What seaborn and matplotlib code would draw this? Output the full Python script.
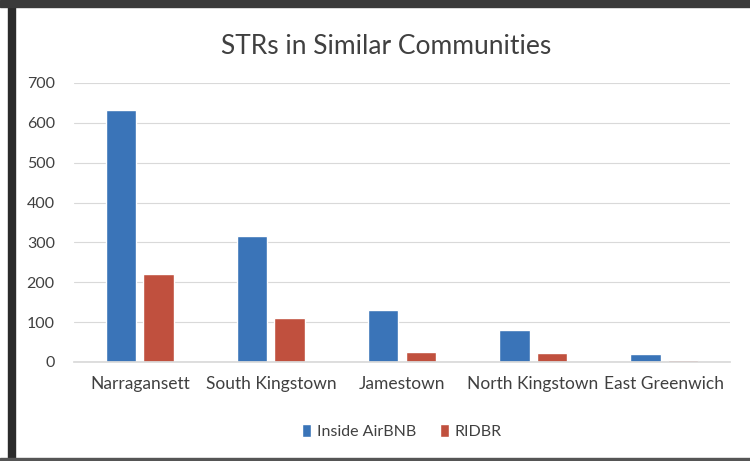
import matplotlib
matplotlib.use("Agg")
import matplotlib.pyplot as plt
import seaborn as sns
import pandas as pd
from matplotlib.patches import Rectangle

towns = ["Narragansett", "South Kingstown", "Jamestown", "North Kingstown", "East Greenwich"]
inside_airbnb = [632, 315, 131, 81, 21]
ridbr = [220, 110, 26, 22, 4]
series_names = ["Inside AirBNB", "RIDBR"]
yticks = [0, 100, 200, 300, 400, 500, 600, 700]

df = pd.DataFrame({
    "Town": towns * 2,
    "Series": [series_names[0]] * len(towns) + [series_names[1]] * len(towns),
    "Value": inside_airbnb + ridbr,
})

sns.set_theme(style="white")
plt.rcParams["font.family"] = ["Lato", "DejaVu Sans"]

fig = plt.figure(figsize=(7.5, 4.61), dpi=100)
ax = fig.add_axes([0.099, 0.215, 0.874, 0.605])

palette = {"Inside AirBNB": "#3a74b8", "RIDBR": "#c0503e"}
sns.barplot(data=df, x="Town", y="Value", hue="Series", palette=palette,
            width=0.57, gap=0.19, ax=ax, saturation=1, legend=True)

ax.set_ylim(0, 700)
ax.set_yticks(yticks)
ax.set_xlim(-0.5, len(towns) - 0.5)
ax.yaxis.grid(True, color="#d9d9d9", linewidth=0.8)
ax.set_axisbelow(True)
for s in ["top", "right", "left"]:
    ax.spines[s].set_visible(False)
ax.spines["bottom"].set_color("#d9d9d9")
ax.set_xlabel("")
ax.set_ylabel("")
ax.tick_params(axis="x", length=0, labelsize=12.5, colors="#404040", pad=10)
ax.tick_params(axis="y", length=0, labelsize=11.5, colors="#404040", pad=14)

leg = ax.legend(loc="upper center", bbox_to_anchor=(0.5, -0.17), ncol=2, frameon=False,
                fontsize=11.5, handlelength=0.55, handleheight=0.9, handletextpad=0.35,
                columnspacing=1.5)
for t in leg.get_texts():
    t.set_color("#404040")

fig.text(0.515, 0.9, "STRs in Similar Communities", ha="center", va="center",
         fontsize=19, color="#404040")

# scan frame
fig.patches.append(Rectangle((0.0107, 0.0), 0.0093, 1.0, transform=fig.transFigure,
                             color="#2b2b2b", zorder=10))
fig.patches.append(Rectangle((0.0, 0.985), 1.0, 0.015, transform=fig.transFigure,
                             color="#3a3a3a", zorder=10))
fig.patches.append(Rectangle((0.0, 0.0), 1.0, 0.006, transform=fig.transFigure,
                             color="#555555", zorder=10))

fig.savefig("out.png", dpi=100)
